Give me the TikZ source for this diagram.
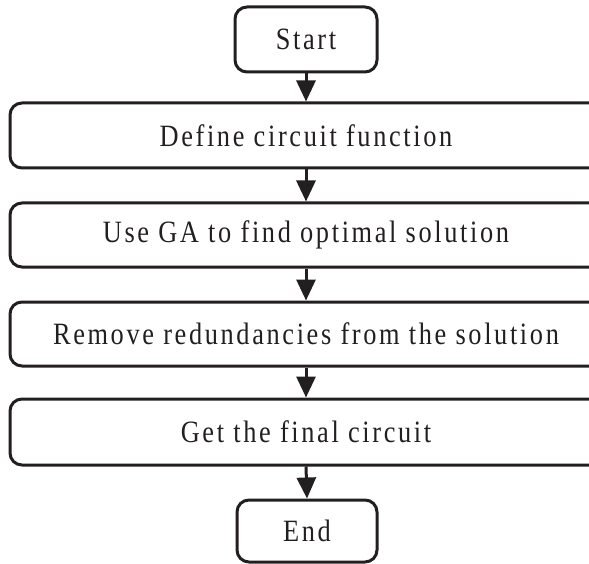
\documentclass[tikz,border=0pt]{standalone}
\usepackage{fontspec}
\setmainfont{Liberation Serif}[FakeStretch=0.85, LetterSpace=8.5]
\usetikzlibrary{arrows.meta}
\definecolor{ink}{HTML}{231F20}
\tikzset{
  stepbox/.style={draw=ink, line width=3pt, rounded corners=12pt, fill=white,
    inner sep=0pt, text=ink, font=\fontsize{31}{35}\selectfont},
  flow/.style={draw=ink, line width=3pt,
    -{Triangle[length=21pt, width=19pt]}}
}
\begin{document}
\begin{tikzpicture}[x=1pt, y=-1pt]
\useasboundingbox (0,0) rectangle (589,564);
\clip (0,0) rectangle (589,564);
% terminal boxes
\node[stepbox, minimum width=142pt, minimum height=65pt] (start) at (306,39.5) {Start};
\node[stepbox, minimum width=140pt, minimum height=62pt] (end) at (307,531) {End};
% process boxes
\node[stepbox, minimum width=592pt, minimum height=65pt] (b1) at (306,135.5) {Define circuit function};
\node[stepbox, minimum width=592pt, minimum height=64pt] (b2) at (306,235) {Use GA to find optimal solution};
\node[stepbox, minimum width=592pt, minimum height=64pt] (b3) at (306,334) {Remove redundancies from the solution};
\node[stepbox, minimum width=592pt, minimum height=66pt] (b4) at (306,432) {Get the final circuit};
% connectors
\draw[flow] (start.south) -- (b1.north);
\draw[flow] (b1.south) -- (b2.north);
\draw[flow] (b2.south) -- (b3.north);
\draw[flow] (b3.south) -- (b4.north);
\draw[flow] (b4.south) -- (end.north);
\end{tikzpicture}
\end{document}
